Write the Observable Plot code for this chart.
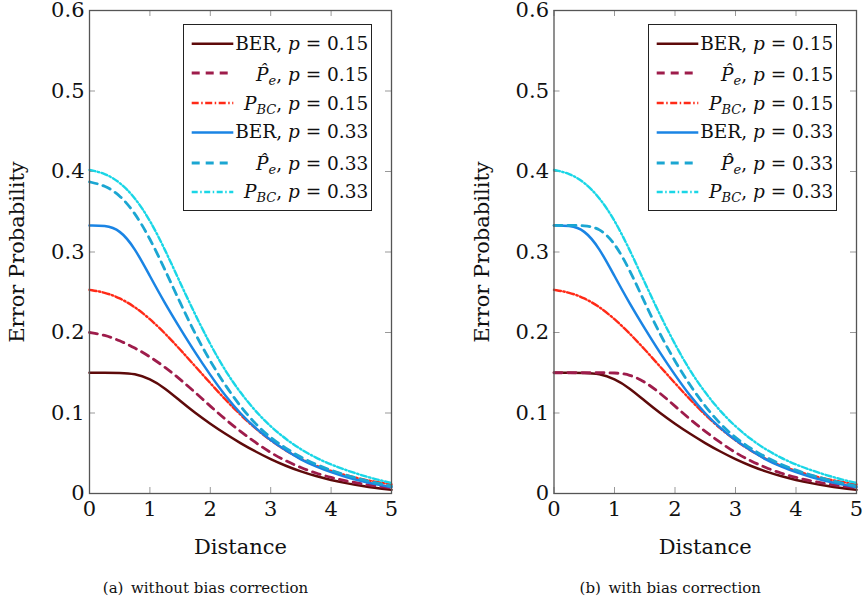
<!DOCTYPE html>
<html>
<head>
<meta charset="utf-8">
<script src="https://cdn.jsdelivr.net/npm/d3@7"></script>
<script src="https://cdn.jsdelivr.net/npm/@observablehq/plot@0.6"></script>
<style>
  body { margin: 0; background: #fff; }
  #wrap { display: flex; width: 864px; height: 604px; overflow: hidden; }
  .panel { position: relative; width: 432px; height: 604px; }
  .panel > svg.plot { position: absolute; left: 0; top: 0; }
  .legend { position: absolute; }
  svg, svg text, svg tspan { font-family: "DejaVu Serif", serif !important; }
</style>
</head>
<body>
<div id="wrap"></div>
<script>
// ---------- data ----------
const distance = [0, 0.25, 0.5, 0.75, 1, 1.25, 1.5, 1.75, 2, 2.25, 2.5, 2.75, 3, 3.25, 3.5, 3.75, 4, 4.25, 4.5, 4.75, 5];

const berP15   = [0.150, 0.150, 0.150, 0.149, 0.1425, 0.131, 0.115, 0.100, 0.0865, 0.074, 0.0625, 0.052, 0.0425, 0.0343, 0.0273, 0.0215, 0.0167, 0.0128, 0.0094, 0.0067, 0.0045];
const peNoBC15 = [0.200, 0.197, 0.190, 0.181, 0.170, 0.157, 0.142, 0.1255, 0.1085, 0.092, 0.077, 0.0632, 0.0505, 0.0405, 0.032, 0.0252, 0.0198, 0.0155, 0.0121, 0.0092, 0.007];
const peBC15   = [0.150, 0.150, 0.150, 0.150, 0.150, 0.148, 0.139, 0.125, 0.1085, 0.092, 0.077, 0.0632, 0.0505, 0.0405, 0.032, 0.0252, 0.0198, 0.0155, 0.0121, 0.0092, 0.007];
const pbcP15   = [0.253, 0.250, 0.243, 0.232, 0.217, 0.199, 0.179, 0.158, 0.137, 0.1165, 0.0975, 0.0805, 0.0657, 0.0532, 0.0429, 0.0344, 0.028, 0.0225, 0.018, 0.0143, 0.0113];

const berP33   = [0.333, 0.333, 0.328, 0.305, 0.270, 0.236, 0.205, 0.175, 0.147, 0.121, 0.099, 0.081, 0.066, 0.0535, 0.042, 0.0335, 0.0263, 0.0203, 0.0153, 0.0112, 0.0078];
const peNoBC33 = [0.387, 0.383, 0.371, 0.349, 0.317, 0.278, 0.237, 0.198, 0.164, 0.134, 0.108, 0.086, 0.069, 0.056, 0.045, 0.036, 0.0288, 0.0228, 0.0175, 0.013, 0.0092];
const peBC33   = [0.333, 0.333, 0.333, 0.330, 0.312, 0.278, 0.237, 0.198, 0.164, 0.134, 0.108, 0.086, 0.069, 0.056, 0.045, 0.036, 0.0288, 0.0228, 0.0175, 0.013, 0.0092];
const pbcP33   = [0.402, 0.398, 0.387, 0.368, 0.340, 0.303, 0.262, 0.222, 0.185, 0.152, 0.125, 0.102, 0.083, 0.0675, 0.0547, 0.0443, 0.0358, 0.029, 0.0228, 0.0175, 0.013];

const xTicks = [0, 1, 2, 3, 4, 5];
const xTickLabels = ["0", "1", "2", "3", "4", "5"];
const yTicks = [0, 0.1, 0.2, 0.3, 0.4, 0.5, 0.6];
const yTickLabels = ["0", "0.1", "0.2", "0.3", "0.4", "0.5", "0.6"];

const xTitle = "Distance";
const yTitle = "Error Probability";
const captions = ["(a)\u2002without bias correction", "(b)\u2002with bias correction"];
const pValues = ["0.15", "0.15", "0.15", "0.33", "0.33", "0.33"];

// ---------- styles ----------
const FONT = "DejaVu Serif";
const styles = [
  {kind: "BER", stroke: "#5e0a0a", width: 2.5, dash: null},
  {kind: "Pe",  stroke: "#9e1c4b", width: 2.8, dash: "8,6"},
  {kind: "PBC", stroke: "#ff2a17", width: 2.4, dash: "7,2.5,1.5,2.5"},
  {kind: "BER", stroke: "#1a84e4", width: 2.5, dash: null},
  {kind: "Pe",  stroke: "#1ba6d2", width: 2.8, dash: "8,6"},
  {kind: "PBC", stroke: "#1ad6e6", width: 2.4, dash: "6,2.5,1.5,2.5"}
];

function rows(vals) { return distance.map((d, i) => ({x: d, y: vals[i]})); }

function makePanel(seriesVals, ml, mr, caption) {
  const W = 432, H = 604, mt = 10, mb = 111;
  const pw = W - ml - mr, ph = H - mt - mb;
  const marks = [
    Plot.ruleY(yTicks, {stroke: "#999", strokeWidth: 1, insetRight: pw - 6}),
    Plot.ruleY(yTicks, {stroke: "#999", strokeWidth: 1, insetLeft: pw - 6}),
    Plot.ruleX(xTicks, {stroke: "#999", strokeWidth: 1, insetTop: ph - 6}),
    Plot.ruleX(xTicks, {stroke: "#999", strokeWidth: 1, insetBottom: ph - 6}),
  ];
  seriesVals.forEach((vals, i) => {
    const s = styles[i];
    marks.push(Plot.line(rows(vals), {
      x: "x", y: "y", stroke: s.stroke, strokeWidth: s.width,
      strokeDasharray: s.dash || undefined, curve: "basis"
    }));
  });
  marks.push(Plot.frame({stroke: "#555", strokeWidth: 1.3}));
  marks.push(Plot.axisX(xTicks, {tickSize: 0, tickPadding: 8, fontSize: 21, label: null, fontFamily: FONT,
    tickFormat: d => xTickLabels[xTicks.indexOf(d)]}));
  marks.push(Plot.axisY(yTicks, {tickSize: 0, tickPadding: 5, fontSize: 21, label: null, fontFamily: FONT,
    tickFormat: d => yTickLabels[yTicks.indexOf(d)]}));
  marks.push(Plot.text([xTitle], {frameAnchor: "bottom", dy: 54, fontSize: 21, lineAnchor: "middle",
    textAnchor: "middle", fontFamily: FONT, fill: "#111"}));
  marks.push(Plot.text([yTitle], {frameAnchor: "left", dx: -72, rotate: -90, fontSize: 21,
    textAnchor: "middle", lineAnchor: "middle", fontFamily: FONT, fill: "#111"}));
  marks.push(Plot.text([caption], {frameAnchor: "bottom", dx: -35, dy: 95, fontSize: 15, lineAnchor: "middle",
    textAnchor: "middle", fontFamily: FONT, fill: "#111"}));

  const svg = Plot.plot({
    width: W, height: H,
    marginTop: mt, marginBottom: mb, marginLeft: ml, marginRight: mr,
    x: {domain: [0, 5]},
    y: {domain: [0, 0.6]},
    style: {fontFamily: FONT, color: "#111", background: "#fff", overflow: "visible"},
    marks
  });
  svg.classList.add("plot");
  return {svg, pw, ml, mr, mt, W};
}

function makeLegend() {
  const w = 189, h = 187;
  const lineY = [19.7, 49, 79, 108.4, 139, 168];
  const baseY = [26.4, 56.5, 85.7, 114.4, 146, 174.3];
  const svg = d3.create("svg").attr("width", w).attr("height", h)
    .attr("font-family", FONT).attr("font-size", 18.5).attr("fill", "#111");
  svg.append("rect").attr("x", 0.5).attr("y", 0.5).attr("width", w - 1).attr("height", h - 1)
    .attr("fill", "#fff").attr("stroke", "#222").attr("stroke-width", 1);
  styles.forEach((s, i) => {
    svg.append("line").attr("x1", 8.7).attr("x2", 50.3).attr("y1", lineY[i]).attr("y2", lineY[i])
      .attr("stroke", s.stroke).attr("stroke-width", s.width)
      .attr("stroke-dasharray", s.dash);
    const t = svg.append("text").attr("x", 185.3).attr("y", baseY[i]).attr("text-anchor", "end");
    if (s.kind === "BER") {
      t.append("tspan").text("BER, ");
    } else if (s.kind === "Pe") {
      t.append("tspan").attr("font-style", "italic").text("P\u0302");
      t.append("tspan").attr("font-style", "italic").attr("font-size", 13).attr("dy", 4).text("e");
      t.append("tspan").attr("dy", -4).text(", ");
    } else {
      t.append("tspan").attr("font-style", "italic").text("P");
      t.append("tspan").attr("font-style", "italic").attr("font-size", 13).attr("dy", 4).text("BC");
      t.append("tspan").attr("dy", -4).text(", ");
    }
    t.append("tspan").attr("font-style", "italic").text("p");
    t.append("tspan").text(" = " + pValues[i]);
  });
  return svg.node();
}

const wrap = document.getElementById("wrap");
const panelDefs = [
  {vals: [berP15, peNoBC15, pbcP15, berP33, peNoBC33, pbcP33], ml: 89, mr: 41, caption: captions[0]},
  {vals: [berP15, peBC15, pbcP15, berP33, peBC33, pbcP33], ml: 121.5, mr: 8, caption: captions[1]}
];
panelDefs.forEach(def => {
  const div = document.createElement("div");
  div.className = "panel";
  const p = makePanel(def.vals, def.ml, def.mr, def.caption);
  div.appendChild(p.svg);
  const lg = makeLegend();
  lg.classList.add("legend");
  lg.style.left = (p.W - p.mr - 208) + "px";
  lg.style.top = (p.mt + 14) + "px";
  div.appendChild(lg);
  wrap.appendChild(div);
});
</script>
</body>
</html>
